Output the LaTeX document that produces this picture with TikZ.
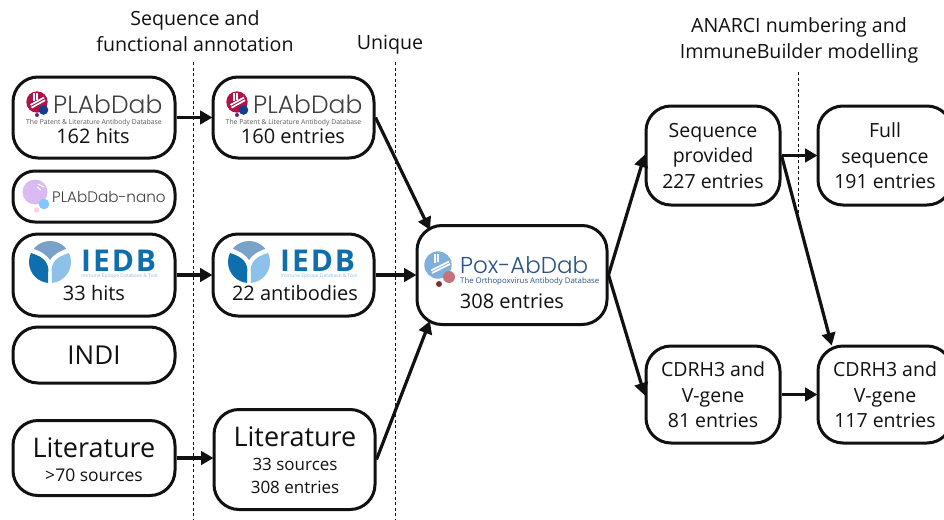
\documentclass[tikz,border=0pt]{standalone}
\usepackage{fontspec}
\setmainfont{Open Sans}
\newfontfamily\logofont{Poppins Light}
\newfontfamily\iedbfont[LetterSpace=6.5]{Open Sans}
\usetikzlibrary{arrows.meta,calc}
\definecolor{ink}{HTML}{111111}
\definecolor{plabred}{HTML}{B0124A}
\definecolor{plabblue}{HTML}{143E8C}
\definecolor{plabpur}{HTML}{5C2A90}
\definecolor{nanolav}{HTML}{D9BBF2}
\definecolor{nanoblue}{HTML}{82C8FC}
\definecolor{nanopink}{HTML}{FAD2E8}
\definecolor{iedbdark}{HTML}{0F6EAE}
\definecolor{iedblight}{HTML}{8DC1E9}
\definecolor{iedbtop}{HTML}{7AA2C9}
\definecolor{poxblue}{HTML}{7FB0DC}
\definecolor{poxrose}{HTML}{C4727C}
\definecolor{poxdark}{HTML}{7C3034}
\definecolor{poxtext}{HTML}{2B5384}
\tikzset{
  x=1pt,y=-1pt,
  box/.style={draw=ink,line width=3pt,rounded corners=25pt,fill=white,minimum width=#1,inner sep=0pt},
  bx/.style 2 args={box=#1,minimum height=#2},
  label text/.style={font=\fontsize{20}{24}\selectfont,text=ink,inner sep=0pt,align=center},
  big text/.style={font=\fontsize{27}{30}\selectfont,text=ink,inner sep=0pt},
  right text/.style={font=\fontsize{19.5}{25.5}\selectfont,text=ink,inner sep=0pt,align=center},
  head text/.style={font=\fontsize{19.6}{26}\selectfont,text=ink,inner sep=0pt,align=center},
  arrow/.style={draw=ink,line width=3.2pt,-{Triangle[length=12.5pt,width=13.5pt]},shorten >=-1pt},
  divider/.style={draw=ink,line width=1pt,dash pattern=on 3pt off 2.5pt},
  plabname/.style={font=\logofont\fontsize{25}{28}\selectfont,text=black!75,inner sep=0pt,text height=17pt,text depth=0pt},
  plabsub/.style={font=\fontsize{6.8}{7}\selectfont,text=black!65,inner sep=0pt,text height=5pt,text depth=1pt},
  iedbname/.style={font=\iedbfont\bfseries\fontsize{30}{30}\selectfont,text=iedbdark,inner sep=0pt,text height=21.5pt,text depth=0pt},
  iedbsub/.style={font=\fontsize{4.9}{6}\selectfont,text=iedblight,inner sep=0pt,text height=4pt,text depth=1pt},
  plablogo/.pic={
    \fill[plabred] (0,0) circle (10.7);
    \draw[white,line width=1.7pt] (-2.7,-9) -- (-2.7,-1.5) (0.3,-9) -- (0.3,-2.5);
    \draw[white,line width=1.7pt] (-6.5,3) -- (7,-4.5) (-5.5,5.7) -- (8,-1.8);
    \fill[plabblue] (6.5,8) circle (4.8);
    \fill[plabpur] (0,13) circle (2);
  },
  nanologo/.pic={
    \fill[nanolav] (0,0) circle (12.5);
    \draw[white,line width=1pt] (3,-8) -- (9,-5) (2,-5) -- (6,-2);
    \fill[nanoblue] (9,12) circle (5.3);
    \fill[nanopink] (1.5,18) circle (2.7);
  },
  iedblogo/.pic={
    \begin{scope}
    \clip (0,0) circle (21);
    \fill[iedbdark] (-23,-10) .. controls (-10,-7) and (-2.5,-2) .. (-1.7,7) -- (-2,22) -- (-23,22) -- cycle;
    \fill[iedblight] (23,-10) .. controls (10,-7) and (2.5,-2) .. (1.7,7) -- (2,22) -- (23,22) -- cycle;
    \fill[iedbtop] (-19,-14) .. controls (-9,-11) and (-3,-7) .. (0,-2) .. controls (3,-7) and (9,-11) .. (19,-14) -- (19,-25) -- (-19,-25) -- cycle;
    \end{scope}
  },
  poxlogo/.pic={
    \fill[poxblue] (0,0) circle (13.7);
    \draw[white,line width=1.6pt] (-3,-11) -- (-3,-2) (0.2,-11) -- (0.2,-3);
    \draw[white,line width=1.6pt] (-7,5.5) -- (11,-3.5) (-6,8) -- (12,-1);
    \fill[poxrose] (11,12) circle (6);
    \fill[poxdark] (1,19) circle (3);
  },
}
\begin{document}
\begin{tikzpicture}
\useasboundingbox (0,0) rectangle (944,519);
% dividers
\coordinate (d1t) at (193,62); \coordinate (d1b) at (193,519);
\coordinate (d2t) at (395,62); \coordinate (d2b) at (395,519);
\coordinate (d3t) at (798,72); \coordinate (d3b) at (798,216);
\draw[divider] (d1t) -- (d1b);
\draw[divider] (d2t) -- (d2b);
\draw[divider] (d3t) -- (d3b);
% boxes
\node[bx={162pt}{81pt}] (plabL) at (94,117.5) {};
\node[bx={162pt}{51pt},rounded corners=22pt] (nanoL) at (94,196.5) {};
\node[bx={162pt}{82pt}] (iedbL) at (94,275) {};
\node[bx={162pt}{56pt}] (indiL) at (94,355) {};
\node[bx={162pt}{75pt}] (litL) at (94,458) {};
\node[bx={161pt}{81pt}] (plabM) at (293.5,117.5) {};
\node[bx={161pt}{82pt}] (iedbM) at (293.5,275) {};
\node[bx={161pt}{100pt}] (litM) at (294.5,459.5) {};
\node[bx={190pt}{99pt}] (pox) at (512,275) {};
\node[bx={134pt}{99pt}] (seq) at (713,155.5) {};
\node[bx={134pt}{97pt}] (cdrA) at (713,394.5) {};
\node[bx={134pt}{99pt}] (full) at (885,155.5) {};
\node[bx={134pt}{97pt}] (cdrB) at (885,394.5) {};
% arrows
\draw[arrow] (plabL.east) -- (plabM.west);
\draw[arrow] (iedbL.east) -- (iedbM.west);
\draw[arrow] (litL.east) -- (litL.east -| litM.west);
\draw[arrow] (plabM.east) -- ($(pox.north west)+(14,5)$);
\draw[arrow] (iedbM.east) -- (pox.west);
\draw[arrow] (litM.east) -- ($(pox.south west)+(14,-4)$);
\draw[arrow] (pox.east) -- (seq.west);
\draw[arrow] (pox.east) -- (cdrA.west);
\draw[arrow] (seq.east) -- (full.west);
\draw[arrow] (seq.east) -- ($(cdrB.north west)+(15,0)$);
\draw[arrow] (cdrA.east) -- (cdrB.west);
% headings
\node[head text] (h1) at (195,31) {Sequence and\\functional annotation};
\node[head text] (h2) at (390,45) {Unique};
\node[head text] (h3) at (799,40) {ANARCI numbering and\\ImmuneBuilder modelling};
% PLAbDab logos
\pic at (37,102) {plablogo};
\pic at (237,102) {plablogo};
\node[plabname,anchor=base west] (pn1) at (53,113) {PLAbDab};
\node[plabname,anchor=base west] (pn2) at (253,113) {PLAbDab};
\node[plabsub] (ps1) at (94,122.5) {The Patent \& Literature Antibody Database};
\node[plabsub] (ps2) at (293.5,122.5) {The Patent \& Literature Antibody Database};
\node[label text] (t1) at (93,136) {162 hits};
\node[label text] (t2) at (293,136) {160 entries};
% nano
\pic at (35,192) {nanologo};
\node[font=\logofont\fontsize{15.2}{18}\selectfont,text=black!75,inner sep=0pt,anchor=west] (nn) at (52,197) {PLAbDab-nano};
% IEDB logos
\pic at (50,262) {iedblogo};
\pic at (249,262) {iedblogo};
\node[iedbname,anchor=base west] (in1) at (81,271) {IEDB};
\node[iedbname,anchor=base west] (in2) at (280,271) {IEDB};
\node[iedbsub] (is1) at (119.5,276) {Immune Epitope Database \& Tool};
\node[iedbsub] (is2) at (319,276) {Immune Epitope Database \& Tool};
\node[label text] (t3) at (94,293) {33 hits};
\node[label text] (t4) at (295,293) {22 antibodies};
\node[big text,font=\fontsize{26}{28}\selectfont] (t5) at (94,355) {INDI};
% literature
\node[big text] (t6) at (94,448) {Literature};
\node[font=\fontsize{17.5}{21}\selectfont,text=ink,inner sep=0pt] (t7) at (94,475) {>70 sources};
\node[big text] (t8) at (295,437) {Literature};
\node[font=\fontsize{17}{23}\selectfont,text=ink,inner sep=0pt,align=center] (t9) at (295,476) {33 sources\\308 entries};
% pox
\pic at (438,265) {poxlogo};
\node[font=\logofont\fontsize{23}{28}\selectfont,text=poxtext,inner sep=0pt,anchor=base west,text height=16pt,text depth=0pt] (pxn) at (460,273) {Pox-AbDab};
\node[font=\fontsize{7.8}{8}\selectfont,text=poxtext,inner sep=0pt,anchor=west,text height=5.5pt,text depth=1.5pt] (pxs) at (460,281) {The Orthopoxvirus Antibody Database};
\node[label text] (t10) at (512,301) {308 entries};
% right
\node[right text] (t11) at (713,156) {Sequence\\provided\\227 entries};
\node[right text] (t12) at (713,395) {CDRH3 and\\V-gene\\81 entries};
\node[right text] (t13) at (885,156) {Full\\sequence\\191 entries};
\node[right text] (t14) at (885,395) {CDRH3 and\\V-gene\\117 entries};
\end{tikzpicture}
\end{document}
